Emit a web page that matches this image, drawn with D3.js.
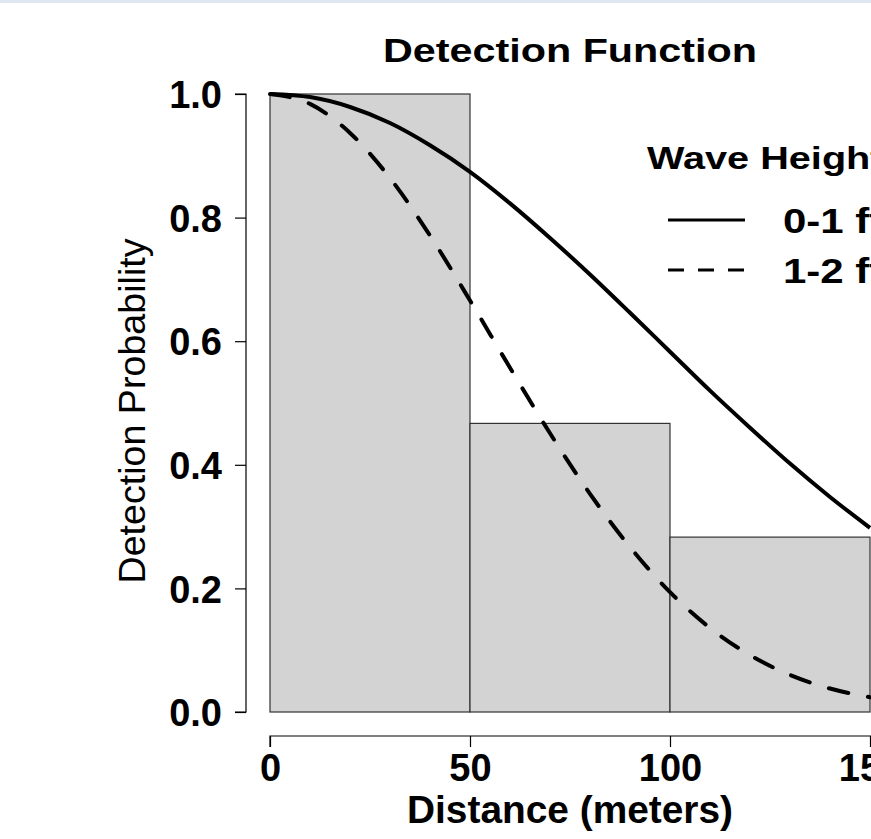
<!DOCTYPE html>
<html>
<head>
<meta charset="utf-8">
<script src="https://cdn.jsdelivr.net/npm/d3@7"></script>
<style>
  body { margin: 0; background: #fff; }
  svg { display: block; font-family: "Liberation Sans", Arial, sans-serif; }
</style>
</head>
<body>
<div id="chart"></div>
<script>
// histogram bins (distance, m) and scaled heights
const binEdges = [0, 50, 100, 150];
const binHeights = [1.0, 0.467, 0.283];

const distances = [0, 10, 20, 30, 40, 50, 60, 70, 80, 90, 100, 110, 120, 130, 140, 150];
const calmValues = [1.000, 0.995, 0.979, 0.953, 0.917, 0.874, 0.823, 0.767, 0.708, 0.646, 0.583, 0.520, 0.460, 0.402, 0.348, 0.298];
const roughValues = [1.000, 0.984, 0.937, 0.864, 0.771, 0.666, 0.557, 0.451, 0.353, 0.267, 0.194, 0.136, 0.092, 0.060, 0.038, 0.024];

const xTicks = [0, 50, 100, 150];
const yTicks = [0, 0.2, 0.4, 0.6, 0.8, 1.0];
const legendLabels = ['0-1 ft', '1-2 ft'];

const width = 871, height = 839;

const svg = d3.select('#chart').append('svg')
  .attr('width', width)
  .attr('height', height);

svg.append('rect')
  .attr('width', width).attr('height', 3)
  .attr('fill', '#dfe7f2');

// x: 0..150, plot region (with 4% padding) starts at 246
const x = d3.scaleLinear().domain([0, 150]).range([270, 870]);
const y = d3.scaleLinear().domain([0, 1]).range([712, 94]);

// the glyphs in the original are drawn a bit wider than Arial
function place(sel, px, py, sx) {
  sel.attr('transform', `translate(${px},${py}) scale(${sx},1)`);
}

// bars
const bins = binHeights.map((h, i) => ({ x0: binEdges[i], x1: binEdges[i + 1], h: h }));
svg.append('g').selectAll('rect')
  .data(bins).enter()
  .append('rect')
    .attr('x', d => x(d.x0))
    .attr('y', d => y(d.h))
    .attr('width', d => x(d.x1) - x(d.x0))
    .attr('height', d => y(0) - y(d.h))
    .attr('fill', '#d3d3d3')
    .attr('stroke', '#333')
    .attr('stroke-width', 1.2);

// curves
const line = d3.line()
  .x(d => x(d[0]))
  .y(d => y(d[1]))
  .curve(d3.curveMonotoneX);

svg.append('path')
  .datum(distances.map((d, i) => [d, calmValues[i]]))
  .attr('d', line)
  .attr('fill', 'none')
  .attr('stroke', '#000')
  .attr('stroke-width', 4);

svg.append('path')
  .datum(distances.map((d, i) => [d, roughValues[i]]))
  .attr('d', line)
  .attr('fill', 'none')
  .attr('stroke', '#000')
  .attr('stroke-width', 4)
  .attr('stroke-linecap', 'round')
  .attr('stroke-dasharray', '20,20');

// axes
const yAxis = d3.axisLeft(y).tickValues(yTicks).tickSize(11).tickFormat(d3.format('.1f'));
const yg = svg.append('g')
  .attr('transform', 'translate(246,0)')
  .call(yAxis);
yg.select('.domain').attr('d', `M-11,${y(0)}H0V${y(1)}H-11`).attr('stroke', '#000').attr('stroke-width', 1.2);
yg.selectAll('.tick line').attr('stroke', '#000').attr('stroke-width', 1.2);
yg.selectAll('.tick text')
  .attr('x', -24)
  .attr('dy', '0.36em')
  .attr('fill', '#000')
  .style('font-size', '38px')
  .style('font-weight', 'bold')
  .style('font-family', '"Liberation Sans", Arial, sans-serif');

const xAxis = d3.axisBottom(x).tickValues(xTicks).tickSize(11);
const xg = svg.append('g')
  .attr('transform', 'translate(0,736)')
  .call(xAxis);
xg.select('.domain').attr('d', `M${x(0)},11V0H${x(150) + 30}`).attr('stroke', '#000').attr('stroke-width', 1.2);
xg.selectAll('.tick line').attr('stroke', '#000').attr('stroke-width', 1.2);
xg.selectAll('.tick text')
  .attr('y', 45)
  .attr('dy', 0)
  .attr('fill', '#000')
  .style('font-size', '38px')
  .style('font-weight', 'bold')
  .style('font-family', '"Liberation Sans", Arial, sans-serif');

// titles
svg.append('text')
  .attr('x', 570).attr('y', 62)
  .attr('text-anchor', 'middle')
  .attr('textLength', 374)
  .attr('lengthAdjust', 'spacingAndGlyphs')
  .style('font-size', '34px')
  .style('font-weight', 'bold')
  .text('Detection Function');

svg.append('text')
  .attr('x', 570).attr('y', 823)
  .attr('text-anchor', 'middle')
  .attr('textLength', 326)
  .attr('lengthAdjust', 'spacingAndGlyphs')
  .style('font-size', '38px')
  .style('font-weight', 'bold')
  .text('Distance (meters)');

svg.append('text')
  .attr('transform', 'translate(145,411) rotate(-90)')
  .attr('text-anchor', 'middle')
  .attr('textLength', 345)
  .attr('lengthAdjust', 'spacingAndGlyphs')
  .style('font-size', '37px')
  .text('Detection Probability');

// legend
const legend = svg.append('g');
legend.append('text')
  .call(place, 647, 169, 1.24)
  .style('font-size', '32px')
  .style('font-weight', 'bold')
  .text('Wave Height');

const legendRows = legend.selectAll('g.row')
  .data(legendLabels).enter()
  .append('g')
    .attr('class', 'row')
    .attr('transform', (d, i) => `translate(0,${220 + i * 50})`);

legendRows.append('line')
  .attr('x1', 668).attr('x2', 745)
  .attr('stroke', '#000')
  .attr('stroke-width', 3)
  .attr('stroke-dasharray', (d, i) => i === 0 ? null : '16,14');

legendRows.append('text')
  .call(place, 783, 13, 1.2)
  .style('font-size', '35px')
  .style('font-weight', 'bold')
  .text(d => d);
</script>
</body>
</html>
